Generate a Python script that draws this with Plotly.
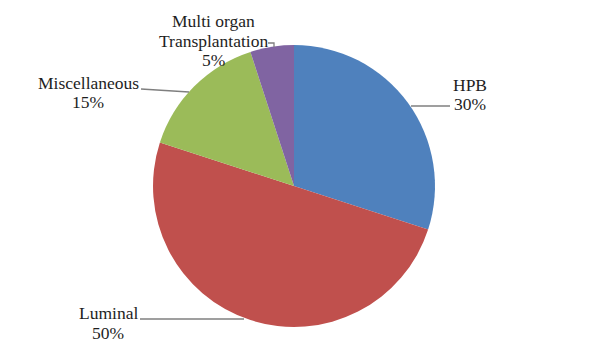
import plotly.graph_objects as go

labels = ["HPB", "Luminal", "Miscellaneous", "Multi organ<br>Transplantation"]
values = [30, 50, 15, 5]
colors = ["#4F81BD", "#C0504D", "#9BBB59", "#8064A2"]

W, H = 600, 360
OFF = 8  # page body margin
def px(x):
    return (x - OFF) / W
def py(y):
    return 1 - (y - OFF) / H

cx, cy, r = 294, 186, 141

fig = go.Figure(go.Pie(
    labels=labels, values=values, sort=False, direction="clockwise", rotation=0,
    marker=dict(colors=colors, line=dict(width=0)),
    textinfo="none", hoverinfo="label+percent", showlegend=False,
    domain=dict(x=[px(cx - r), px(cx + r)], y=[py(cy + r), py(cy - r)]),
))

font = dict(family="Liberation Serif, Times New Roman, serif", size=17.5, color="#1e1e1e")
total = sum(values)
# first text line centre (pixel) and line spacing
label_pos = [(470, 85), (108, 313), (88, 83), (213, 21)]
spacing = 19.5
for lab, v, (x, y) in zip(labels, values, label_pos):
    lines = lab.split("<br>") + [f"{round(100*v/total)}%"]
    for i, t in enumerate(lines):
        fig.add_annotation(x=px(x), y=py(y + i * spacing), xref="paper", yref="paper",
                           text=t, showarrow=False, font=font,
                           xanchor="center", yanchor="middle")

line = dict(color="#7f7f7f", width=1.3)
leaders = [
    [(411, 106), (450, 106)],
    [(140, 319), (244, 319)],
    [(141, 89), (189, 92)],
    [(268, 43), (274, 43), (274, 47)],
]
for pts in leaders:
    path = "M " + " L ".join(f"{px(x)},{py(y)}" for x, y in pts)
    fig.add_shape(type="path", path=path, xref="paper", yref="paper", line=line)

fig.update_layout(width=W, height=H, margin=dict(l=0, r=0, t=0, b=0),
                  paper_bgcolor="white", plot_bgcolor="white")
fig.write_html("out.html")
